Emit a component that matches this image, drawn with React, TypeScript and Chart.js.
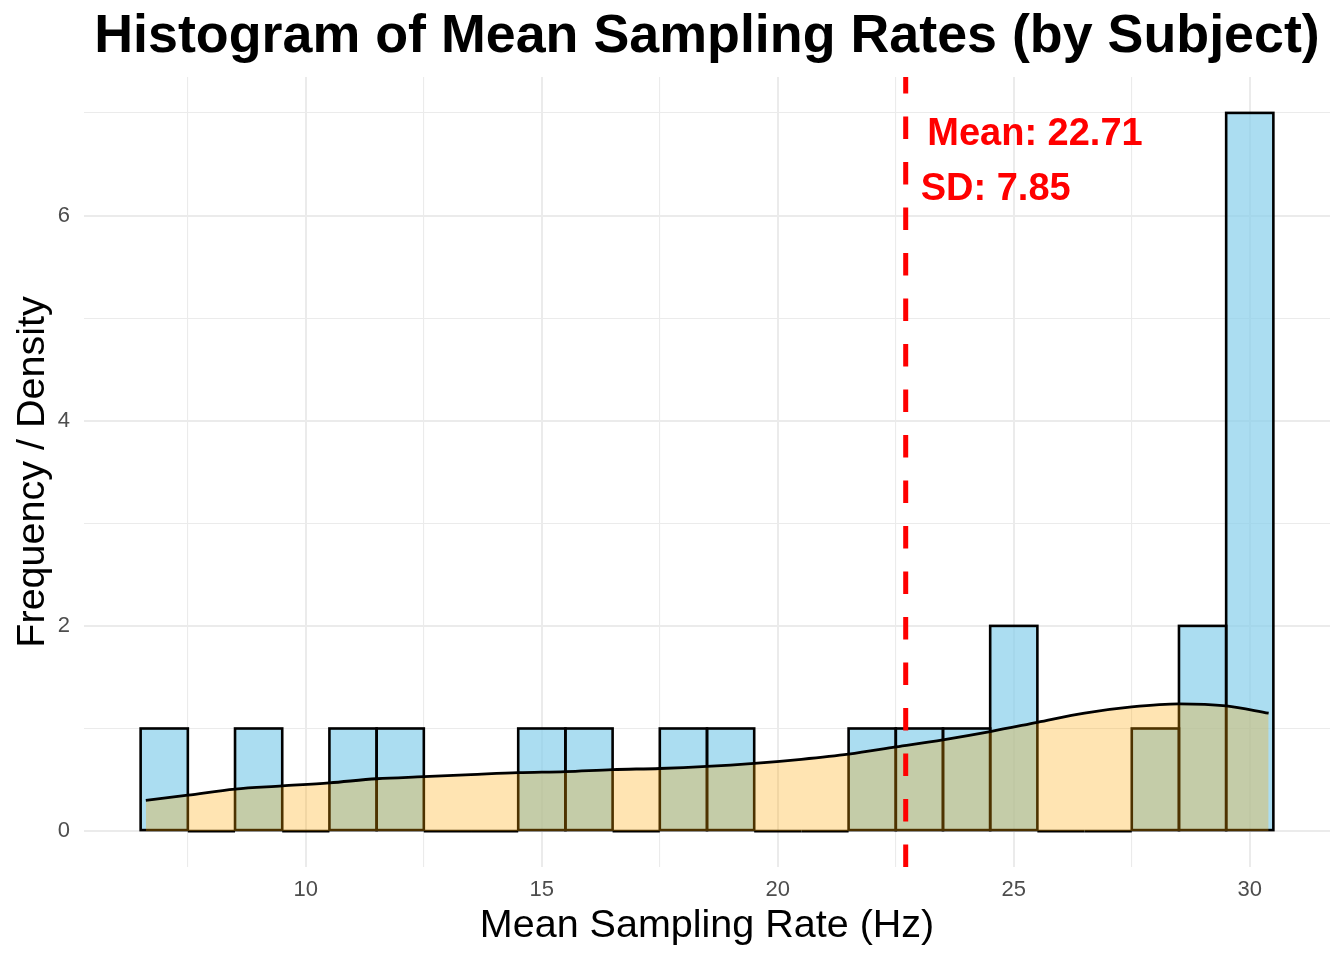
import React, { useEffect, useRef } from 'react';
import { Chart, registerables } from 'chart.js';

Chart.register(...registerables);

// ---- Data ----
const binCenters = [7, 8, 9, 10, 11, 12, 13, 14, 15, 16, 17, 18, 19, 20, 21, 22, 23, 24, 25, 26, 27, 28, 29, 30];
const binCounts = [1, 0, 1, 0, 1, 1, 0, 0, 1, 1, 0, 1, 1, 0, 0, 1, 1, 1, 2, 0, 0, 1, 2, 7];

const densityX = [6.61, 7.5, 8.5, 9.5, 10.5, 11.5, 12.5, 13.5, 14.5, 15.5, 16.5, 17.5, 18.5, 19.5, 20.5, 21.5, 22.5, 23.5, 24.5, 25.5, 26.5, 27.5, 28.5, 29.5, 30.4];
const densityY = [0.30, 0.35, 0.41, 0.44, 0.47, 0.51, 0.53, 0.55, 0.57, 0.58, 0.60, 0.61, 0.63, 0.66, 0.70, 0.75, 0.82, 0.89, 0.97, 1.06, 1.15, 1.21, 1.24, 1.22, 1.15];

const meanValue = 22.71;
const sdValue = 7.85;

const xMajorTicks = [10, 15, 20, 25, 30];
const xMinorTicks = [7.5, 12.5, 17.5, 22.5, 27.5];
const yMajorTicks = [0, 2, 4, 6];
const yMinorTicks = [1, 3, 5, 7];
const xLimits = [5.3, 31.7];
const yLimits = [-0.35, 7.35];

const titleText = 'Histogram of Mean Sampling Rates (by Subject)';
const xTitle = 'Mean Sampling Rate (Hz)';
const yTitle = 'Frequency / Density';
const labelY = [6.79, 6.25];

const FONT = '"Liberation Sans", Arial, Helvetica, sans-serif';

export default function App() {
  const ref = useRef<HTMLCanvasElement | null>(null);

  useEffect(() => {
    document.body.style.margin = '0';
    const canvas = ref.current;
    if (!canvas) return;

    const outlinePlugin = {
      id: 'barOutline',
      afterDatasetDraw(chart: any, args: any) {
        if (args.index !== 2) return;
        const ctx = chart.ctx;
        ctx.save();
        ctx.strokeStyle = '#000000';
        ctx.lineWidth = 2.6;
        ctx.lineJoin = 'miter';
        args.meta.data.forEach((el: any) => {
          const p = el.getProps(['x', 'y', 'base', 'width'], true);
          const top = Math.min(p.y, p.base);
          const h = Math.abs(p.base - p.y);
          ctx.strokeRect(p.x - p.width / 2, top, p.width, h);
        });
        ctx.restore();
      },
    };

    const textPlugin = {
      id: 'texts',
      afterDatasetsDraw(chart: any) {
        const ctx = chart.ctx;
        const xs = chart.scales.x;
        const ys = chart.scales.y;
        const xp = xs.getPixelForValue(meanValue);
        ctx.save();
        ctx.fillStyle = '#FF0000';
        ctx.font = `bold 38px ${FONT}`;
        ctx.textBaseline = 'middle';
        ctx.textAlign = 'left';
        const t1 = `Mean: ${meanValue.toFixed(2)}`;
        const t2 = `SD: ${sdValue.toFixed(2)}`;
        const w1 = ctx.measureText(t1).width;
        const w2 = ctx.measureText(t2).width;
        ctx.fillText(t1, xp + 0.1 * w1, ys.getPixelForValue(labelY[0]));
        ctx.fillText(t2, xp + 0.1 * w2, ys.getPixelForValue(labelY[1]));
        ctx.restore();
      },
      afterDraw(chart: any) {
        const ctx = chart.ctx;
        const a = chart.chartArea;
        const cx = (a.left + a.right) / 2;
        const cy = (a.top + a.bottom) / 2;
        ctx.save();
        ctx.fillStyle = '#000000';
        ctx.textAlign = 'center';
        ctx.textBaseline = 'alphabetic';
        ctx.font = `bold 53.8px ${FONT}`;
        ctx.fillText(titleText, cx, 52);
        ctx.font = `39.5px ${FONT}`;
        ctx.fillText(xTitle, cx, 937);
        ctx.translate(44, cy);
        ctx.rotate(-Math.PI / 2);
        ctx.fillText(yTitle, 0, 0);
        ctx.restore();
      },
    };

    const xGrid = [...xMinorTicks, ...xMajorTicks].sort((a, b) => a - b);
    const yGrid = [...yMinorTicks, ...yMajorTicks].sort((a, b) => a - b);

    const chart = new Chart(canvas, {
      type: 'bar',
      data: {
        datasets: [
          {
            type: 'line',
            label: 'mean',
            data: [
              { x: meanValue, y: yLimits[0] },
              { x: meanValue, y: yLimits[1] },
            ],
            borderColor: '#FF0000',
            borderWidth: 5,
            borderDash: [22.5, 23],
            pointRadius: 0,
            fill: false,
            order: 1,
          } as any,
          {
            type: 'line',
            label: 'density',
            data: densityX.map((x, i) => ({ x, y: densityY[i] })),
            borderColor: '#000000',
            borderWidth: 2.8,
            backgroundColor: 'rgba(255,165,0,0.3)',
            fill: 'origin',
            pointRadius: 0,
            cubicInterpolationMode: 'monotone',
            order: 2,
          } as any,
          {
            type: 'bar',
            label: 'count',
            data: binCenters.map((x, i) => ({ x, y: binCounts[i] })),
            backgroundColor: 'rgba(135,206,235,0.7)',
            borderWidth: 0,
            barPercentage: 1,
            categoryPercentage: 1,
            grouped: false,
            order: 3,
          } as any,
        ],
      },
      options: {
        animation: false,
        responsive: false,
        devicePixelRatio: 1,
        layout: { padding: { top: 77, right: 14, left: 0, bottom: 0 } },
        plugins: {
          legend: { display: false },
          title: { display: false },
          tooltip: { enabled: false },
        },
        scales: {
          x: {
            type: 'linear',
            min: xLimits[0],
            max: xLimits[1],
            offset: false,
            afterBuildTicks: (axis: any) => {
              axis.ticks = xGrid.map((v) => ({ value: v }));
            },
            afterFit: (axis: any) => {
              axis.height = 93;
            },
            grid: {
              offset: false,
              color: '#EBEBEB',
              lineWidth: (c: any) => (c.tick && xMajorTicks.includes(c.tick.value) ? 2 : 1.1),
              drawTicks: false,
            },
            border: { display: false },
            ticks: {
              autoSkip: false,
              maxRotation: 0,
              padding: 10,
              color: '#4D4D4D',
              font: { family: FONT, size: 22 },
              callback: (v: any) => (xMajorTicks.includes(Number(v)) ? String(v) : ''),
            },
          },
          y: {
            type: 'linear',
            min: yLimits[0],
            max: yLimits[1],
            afterBuildTicks: (axis: any) => {
              axis.ticks = yGrid.map((v) => ({ value: v }));
            },
            afterFit: (axis: any) => {
              axis.width = 84;
            },
            grid: {
              color: '#EBEBEB',
              lineWidth: (c: any) => (c.tick && yMajorTicks.includes(c.tick.value) ? 2 : 1.1),
              drawTicks: false,
            },
            border: { display: false },
            ticks: {
              autoSkip: false,
              padding: 14,
              color: '#4D4D4D',
              font: { family: FONT, size: 22 },
              callback: (v: any) => (yMajorTicks.includes(Number(v)) ? String(v) : ''),
            },
          },
        },
      } as any,
      plugins: [outlinePlugin, textPlugin],
    });

    return () => {
      chart.destroy();
    };
  }, []);

  return (
    <div style={{ position: 'absolute', left: 0, top: 0, width: 1344, height: 960, background: '#FFFFFF' }}>
      <canvas ref={ref} width={1344} height={960} style={{ width: 1344, height: 960, display: 'block' }} />
    </div>
  );
}
